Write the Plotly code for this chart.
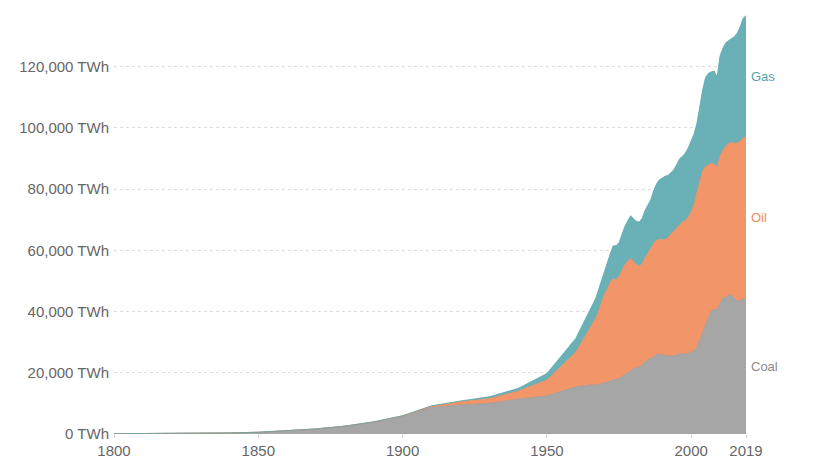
import plotly.graph_objects as go

# decadal estimates up to 1960, annual from 1965
years = list(range(1800, 1961, 10)) + list(range(1965, 2020))

coal = [97, 128, 153, 264, 356, 569, 1061, 1642, 2542, 3856,
        5728, 8656, 9500, 9950, 11400, 12450, 15400,
        16000, 16100, 15900, 16200, 16600, 16900, 17000, 17200, 17700, 17800,
        18100, 18800, 19400, 19800, 20600, 21300, 21500, 21900, 22500, 23400,
        24300, 24700, 25400, 25900, 26100, 25800, 25500, 25400, 25500, 25600,
        25700, 26200, 26300, 26100, 26300, 26800, 27100, 28300, 30900, 33400,
        36000, 38000, 40200, 40700, 40500, 42500, 44400, 44700, 45300, 45300,
        44400, 43300, 43500, 44200, 43900]

oil = [0, 0, 0, 0, 0, 0, 0, 6, 33, 89,
       181, 381, 1050, 1600, 2600, 5200, 11300,
       18500, 20200, 22100, 24300, 26400, 28900, 30500, 32500, 33100, 32600,
       33400, 34900, 35900, 36600, 36700, 35000, 33800, 32900, 33100, 34200,
       34700, 35900, 36900, 37400, 37400, 37800, 38000, 38900, 39700, 40600,
       41600, 42100, 43000, 43700, 44500, 45800, 47900, 50700, 52100, 52600,
       51400, 50000, 48200, 47500, 46500, 48300, 48300, 49300, 49700, 49800,
       50600, 51700, 52300, 52500, 53300]

gas = [0, 0, 0, 0, 0, 0, 0, 0, 0, 33,
       64, 161, 233, 600, 875, 2100, 4500,
       5800, 6200, 6500, 7000, 7500, 7700, 8500, 9300, 10700, 11100,
       11000, 11800, 12500, 13200, 14000, 14000, 14200, 14400, 14800, 15400,
       15700, 15900, 17200, 18400, 19500, 20000, 20700, 20200, 20100, 20100,
       20700, 21600, 21400, 22000, 22700, 23200, 23000, 22500, 24000, 26500,
       29100, 29800, 29900, 30300, 29600, 32700, 33300, 33800, 33500, 34100,
       34800, 36000, 37200, 39100, 39400]

x_ticks = [1800, 1850, 1900, 1950, 2000, 2019]
y_ticks = [0, 20000, 40000, 60000, 80000, 100000, 120000]
y_labels = ["0 TWh", "20,000 TWh", "40,000 TWh", "60,000 TWh",
            "80,000 TWh", "100,000 TWh", "120,000 TWh"]

series = [
    ("Coal", coal, "#a6a6a6", "#999999", "#8a8a8a"),
    ("Oil", oil, "#f2966a", "#e98a5e", "#ee8a5c"),
    ("Gas", gas, "#6ab1b7", "#5ea7ad", "#4fa3aa"),
]

fig = go.Figure()
annotations = []
base = 0
for name, vals, fill, line, text_col in series:
    fig.add_trace(go.Scatter(
        x=years, y=vals, name=name, mode="lines",
        stackgroup="fossil",
        line=dict(color=line, width=0.8),
        fillcolor=fill,
        hoverinfo="x+y+name",
    ))
    # label sits in the middle of each band at the last year
    mid = base + vals[-1] / 2
    base += vals[-1]
    annotations.append(dict(
        x=years[-1], y=mid, text=name, showarrow=False,
        xanchor="left", yanchor="middle", xshift=3,
        font=dict(size=13, color=text_col),
    ))

# page body has an 8px margin, so the figure is a bit smaller than the window
fig.update_layout(
    width=812, height=454,
    margin=dict(l=106, r=74, t=5, b=27.5),
    paper_bgcolor="white", plot_bgcolor="white",
    font=dict(family="Liberation Sans, Arial, sans-serif", size=15, color="#666666"),
    showlegend=False,
    annotations=annotations,
    xaxis=dict(
        range=[1800, 2019], tickvals=x_ticks,
        showgrid=False, zeroline=False, automargin=False,
        showline=False, ticks="outside", ticklen=3, tickcolor="#cccccc",
        ticklabelstandoff=0,
        tickfont=dict(size=15, color="#666666"),
    ),
    yaxis=dict(
        range=[0, 137500], tickvals=y_ticks, ticktext=y_labels,
        showgrid=True, gridcolor="#dddddd", griddash="3px,3px", gridwidth=1,
        zeroline=False, showline=False, ticks="", automargin=False,
        ticklabelstandoff=4,
        tickfont=dict(size=15, color="#666666"),
    ),
)

fig.write_html("out.html")
